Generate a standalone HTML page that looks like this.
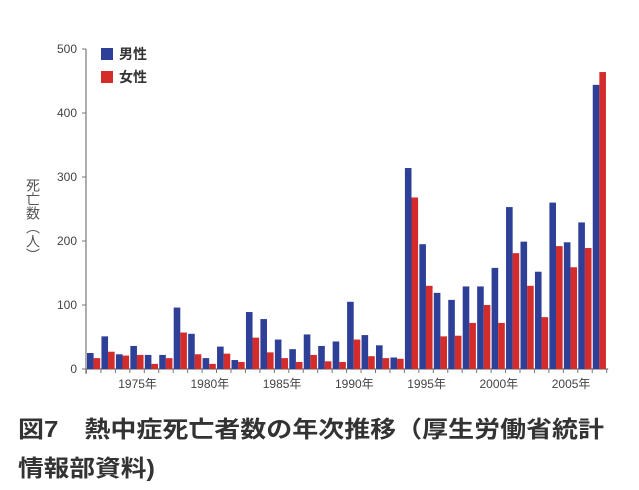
<!DOCTYPE html>
<html><head><meta charset="utf-8"><style>
body{margin:0;background:#fff;}
svg{display:block;font-family:"Liberation Sans","Noto Sans CJK JP",sans-serif;}
</style></head><body>
<svg id="chart" width="639" height="490" viewBox="0 0 639 490">
<g id="axes"></g><g id="bars"></g>
<g>
<rect x="101" y="48" width="12" height="12" fill="#2d3f96"/>
<text x="119" y="59" font-size="14" fill="#333" font-weight="bold">男性</text>
<rect x="101" y="71" width="12" height="12" fill="#d42b2b"/>
<text x="119" y="82" font-size="14" fill="#333" font-weight="bold">女性</text>
</g>
<text x="33" y="178" font-size="14" fill="#555" writing-mode="tb" glyph-orientation-vertical="0">死亡数（人）</text>
<text x="18" y="437" font-size="23" font-weight="bold" fill="#333" textLength="586" lengthAdjust="spacingAndGlyphs">図7　熱中症死亡者数の年次推移（厚生労働省統計</text>
<text x="18" y="476" font-size="23" font-weight="bold" fill="#333" textLength="137" lengthAdjust="spacingAndGlyphs">情報部資料)</text>
</svg>
<script>
const years=[1972,1973,1974,1975,1976,1977,1978,1979,1980,1981,1982,1983,1984,1985,1986,1987,1988,1989,1990,1991,1992,1993,1994,1995,1996,1997,1998,1999,2000,2001,2002,2003,2004,2005,2006,2007];
const male=[25,51,23,36,22,22,96,55,17,35,14,89,78,46,31,54,36,43,105,53,37,18,314,195,119,108,129,129,158,253,199,152,260,198,229,444];
const female=[17,27,21,22,8,17,57,23,8,24,11,49,26,17,11,22,12,11,46,20,17,16,268,130,51,52,72,100,72,181,130,81,192,159,189,464];
const yTicks=[0,100,200,300,400,500];
const xLabelYears=[1975,1980,1985,1990,1995,2000,2005];
const NS="http://www.w3.org/2000/svg";
const x0=86,step=14.45,y0=369,k=0.64;
function yS(v){return y0-v*k;}
function xS(i){return x0+1+i*step;}
function mk(t,a,p){const e=document.createElementNS(NS,t);for(const n in a)e.setAttribute(n,a[n]);p.appendChild(e);return e;}
const ax=document.getElementById('axes'),bg=document.getElementById('bars');
let l=mk('line',{x1:x0,y1:yS(500),x2:x0,y2:y0+5,stroke:'#777','stroke-width':1.2},ax);


l=mk('line',{x1:x0,y1:y0,x2:x0+years.length*step+2,y2:y0,stroke:'#777','stroke-width':1.2},ax);


yTicks.forEach(v=>{
 mk('line',{x1:x0-4,y1:yS(v),x2:x0,y2:yS(v),stroke:'#777'},ax);
 const t=mk('text',{x:x0-9,y:yS(v)+4,'font-size':12,'text-anchor':'end',fill:'#444'},ax);
 t.textContent=v;
 
 
});
for(let i=0;i<=years.length;i++){mk('line',{x1:x0+i*step+0.5,y1:y0,x2:x0+i*step+0.5,y2:y0+4,stroke:'#777'},ax);}
xLabelYears.forEach(yr=>{
 const i=years.indexOf(yr);
 const t=mk('text',{x:xS(i)+step/2,y:y0+19,'font-size':12,'text-anchor':'middle',fill:'#444'},ax);
 t.textContent=yr+'年';
 
 
});
years.forEach((yr,i)=>{
 const b=mk('rect',{x:xS(i),y:yS(male[i]),width:6.6,height:male[i]*k,fill:'#2d3f96'},bg);
 
 
 const r=mk('rect',{x:xS(i)+6.6,y:yS(female[i]),width:6.6,height:female[i]*k,fill:'#d42b2b'},bg);
 
 
});
</script>
</body></html>
